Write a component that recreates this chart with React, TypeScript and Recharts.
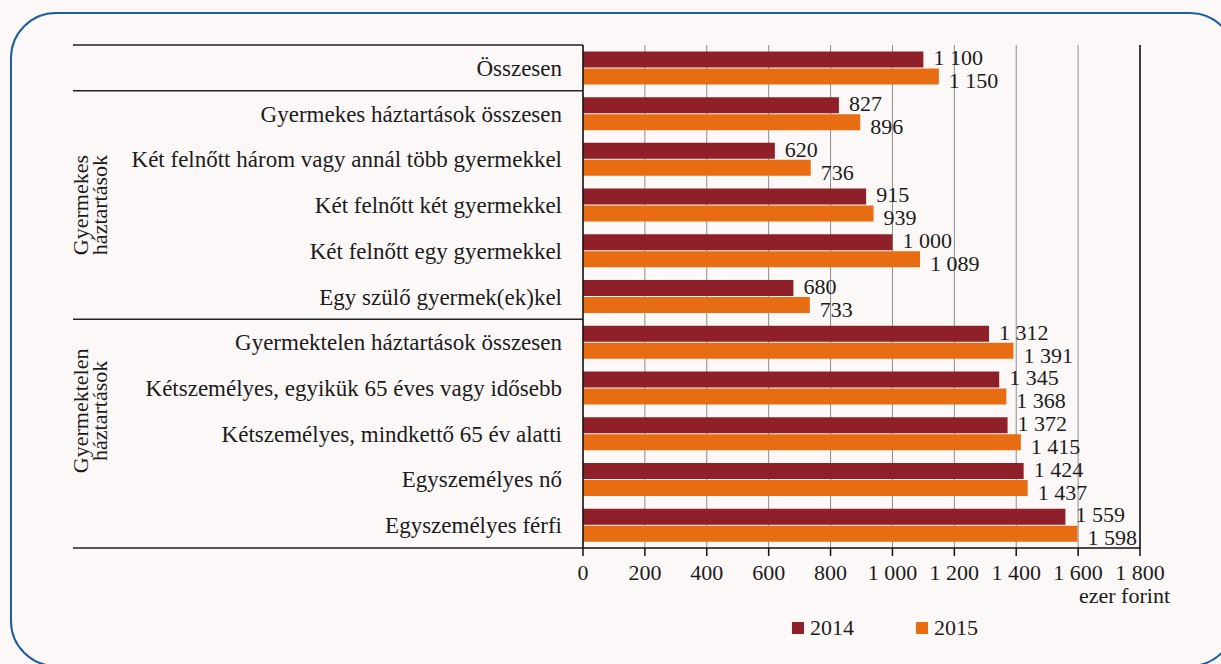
import React from 'react';
import { BarChart, Bar, XAxis, YAxis, CartesianGrid, LabelList, Legend, ReferenceLine } from 'recharts';

const categories = [
  'Összesen',
  'Gyermekes háztartások összesen',
  'Két felnőtt három vagy annál több gyermekkel',
  'Két felnőtt két gyermekkel',
  'Két felnőtt egy gyermekkel',
  'Egy szülő gyermek(ek)kel',
  'Gyermektelen háztartások összesen',
  'Kétszemélyes, egyikük 65 éves vagy idősebb',
  'Kétszemélyes, mindkettő 65 év alatti',
  'Egyszemélyes nő',
  'Egyszemélyes férfi',
];
const values2014 = [1100, 827, 620, 915, 1000, 680, 1312, 1345, 1372, 1424, 1559];
const values2015 = [1150, 896, 736, 939, 1089, 733, 1391, 1368, 1415, 1437, 1598];
const seriesNames = ['2014', '2015'];
const xTicks = [0, 200, 400, 600, 800, 1000, 1200, 1400, 1600, 1800];
const unitLabel = 'ezer forint';
const groupLabels = [
  ['Gyermekes', 'háztartások'],
  ['Gyermektelen', 'háztartások'],
];

const data = categories.map((name, i) => ({ name, v2014: values2014[i], v2015: values2015[i] }));

const FONT = "'Liberation Serif', 'DejaVu Serif', serif";
const TEXT = '#1b1b1b';
const C2014 = '#8F2029';
const C2015 = '#E86C11';
const BG = '#FBF8F7';
const TICK_MARGIN = 21;

const fmt = (v: any) => String(v).replace(/\B(?=(\d{3})+(?!\d))/g, ' ');

const CategoryTick = (props: any) => {
  const { x, y, payload, index, height } = props;
  const half = payload && typeof payload.offset === 'number' && payload.offset > 0
    ? payload.offset
    : (height ? height / categories.length / 2 : 22.9);
  const lineEnd = x + TICK_MARGIN;
  const lines: number[] = [];
  if (index === 0) { lines.push(y - half); lines.push(y + half); }
  if (index === 5) lines.push(y + half);
  if (index === 10) lines.push(y + half);
  let group: { lbl: string[]; cy: number } | null = null;
  if (index === 3) group = { lbl: groupLabels[0], cy: y };
  if (index === 8) group = { lbl: groupLabels[1], cy: y - half };
  return (
    <g>
      <text x={x} y={y} dy="0.35em" textAnchor="end" fontFamily={FONT} style={{ fontFamily: FONT }} fontSize={23} fill={TEXT}>
        {payload.value}
      </text>
      {lines.map((ly, i) => (
        <line key={i} x1={73} x2={lineEnd} y1={ly} y2={ly} stroke="#222" strokeWidth={1.5} />
      ))}
      {group && group.lbl.map((t, i) => {
        const cx = 80 + i * 19;
        return (
          <text key={t + i} x={cx} y={group!.cy} dy="0.35em" textAnchor="middle"
            transform={`rotate(-90, ${cx}, ${group!.cy})`}
            fontFamily={FONT} style={{ fontFamily: FONT }} fontSize={22} fill={TEXT}>{t}</text>
        );
      })}
    </g>
  );
};

const LegendContent = (props: any) => {
  const { payload } = props;
  return (
    <div style={{ display: 'flex', fontFamily: FONT, fontSize: 22, color: TEXT, lineHeight: '24px' }}>
      {(payload || []).map((p: any, i: number) => (
        <div key={i} style={{ display: 'flex', alignItems: 'center', marginRight: i === 0 ? 62 : 0 }}>
          <span style={{ display: 'inline-block', width: 12, height: 12, background: p.color, marginRight: 6 }} />
          <span>{p.value}</span>
        </div>
      ))}
    </div>
  );
};

export default function App() {
  return (
    <div style={{ position: 'fixed', left: 0, top: 0, width: 1221, height: 664, background: BG, overflow: 'hidden', fontFamily: FONT }}>
      <div style={{
        position: 'absolute', left: 10, top: 12, width: 1226, height: 655,
        border: '2px solid #1F5E9E', borderRadius: 46, boxSizing: 'border-box',
      }} />
      <div style={{ position: 'absolute', left: 0, top: 0 }}>
        <BarChart
          width={1221}
          height={664}
          data={data}
          layout="vertical"
          margin={{ top: 45, right: 81, bottom: 56, left: 0 }}
          barCategoryGap="14%"
          barGap={1}
          style={{ fontFamily: FONT }}
        >
          <CartesianGrid horizontal={false} vertical stroke="#8c8c8c" strokeWidth={1} />
          <XAxis
            type="number"
            domain={[0, 1800]}
            ticks={xTicks}
            interval={0}
            height={60}
            tickFormatter={fmt}
            tickSize={8}
            tickMargin={8}
            axisLine={{ stroke: '#111', strokeWidth: 1.5 }}
            tickLine={{ stroke: '#111', strokeWidth: 1.5 }}
            tick={{ fontFamily: FONT, fontSize: 22, fill: TEXT }}
            label={{
              content: (p: any) => {
                const vb = p.viewBox || {};
                return (
                  <text x={vb.x + vb.width + 30} y={vb.y + 55} textAnchor="end"
                    fontFamily={FONT} fontSize={22} fill={TEXT}>{unitLabel}</text>
                );
              },
            }}
          />
          <XAxis
            xAxisId="top"
            orientation="top"
            type="number"
            domain={[0, 1800]}
            height={0}
            tick={false}
            tickLine={false}
            axisLine={{ stroke: '#111', strokeWidth: 1.5 }}
          />
          <YAxis
            type="category"
            dataKey="name"
            width={583}
            tickSize={0}
            tickMargin={TICK_MARGIN}
            interval={0}
            axisLine={{ stroke: '#111', strokeWidth: 1.5 }}
            tickLine={false}
            tick={<CategoryTick />}
          />
          <ReferenceLine x={1800} stroke="#111" strokeWidth={1.5} />
          <Legend
            verticalAlign="middle"
            align="center"
            layout="horizontal"
            content={<LegendContent />}
            wrapperStyle={{ left: 792, top: 616, width: 'auto', height: 'auto' }}
          />
          <Bar dataKey="v2014" name={seriesNames[0]} fill={C2014} isAnimationActive={false}>
            <LabelList dataKey="v2014" position="right" offset={10} formatter={fmt}
              fontFamily={FONT} fontSize={22} fill={TEXT} dy={-2} />
          </Bar>
          <Bar dataKey="v2015" name={seriesNames[1]} fill={C2015} isAnimationActive={false}>
            <LabelList dataKey="v2015" position="right" offset={10} formatter={fmt}
              fontFamily={FONT} fontSize={22} fill={TEXT} dy={4} />
          </Bar>
        </BarChart>
      </div>
    </div>
  );
}
